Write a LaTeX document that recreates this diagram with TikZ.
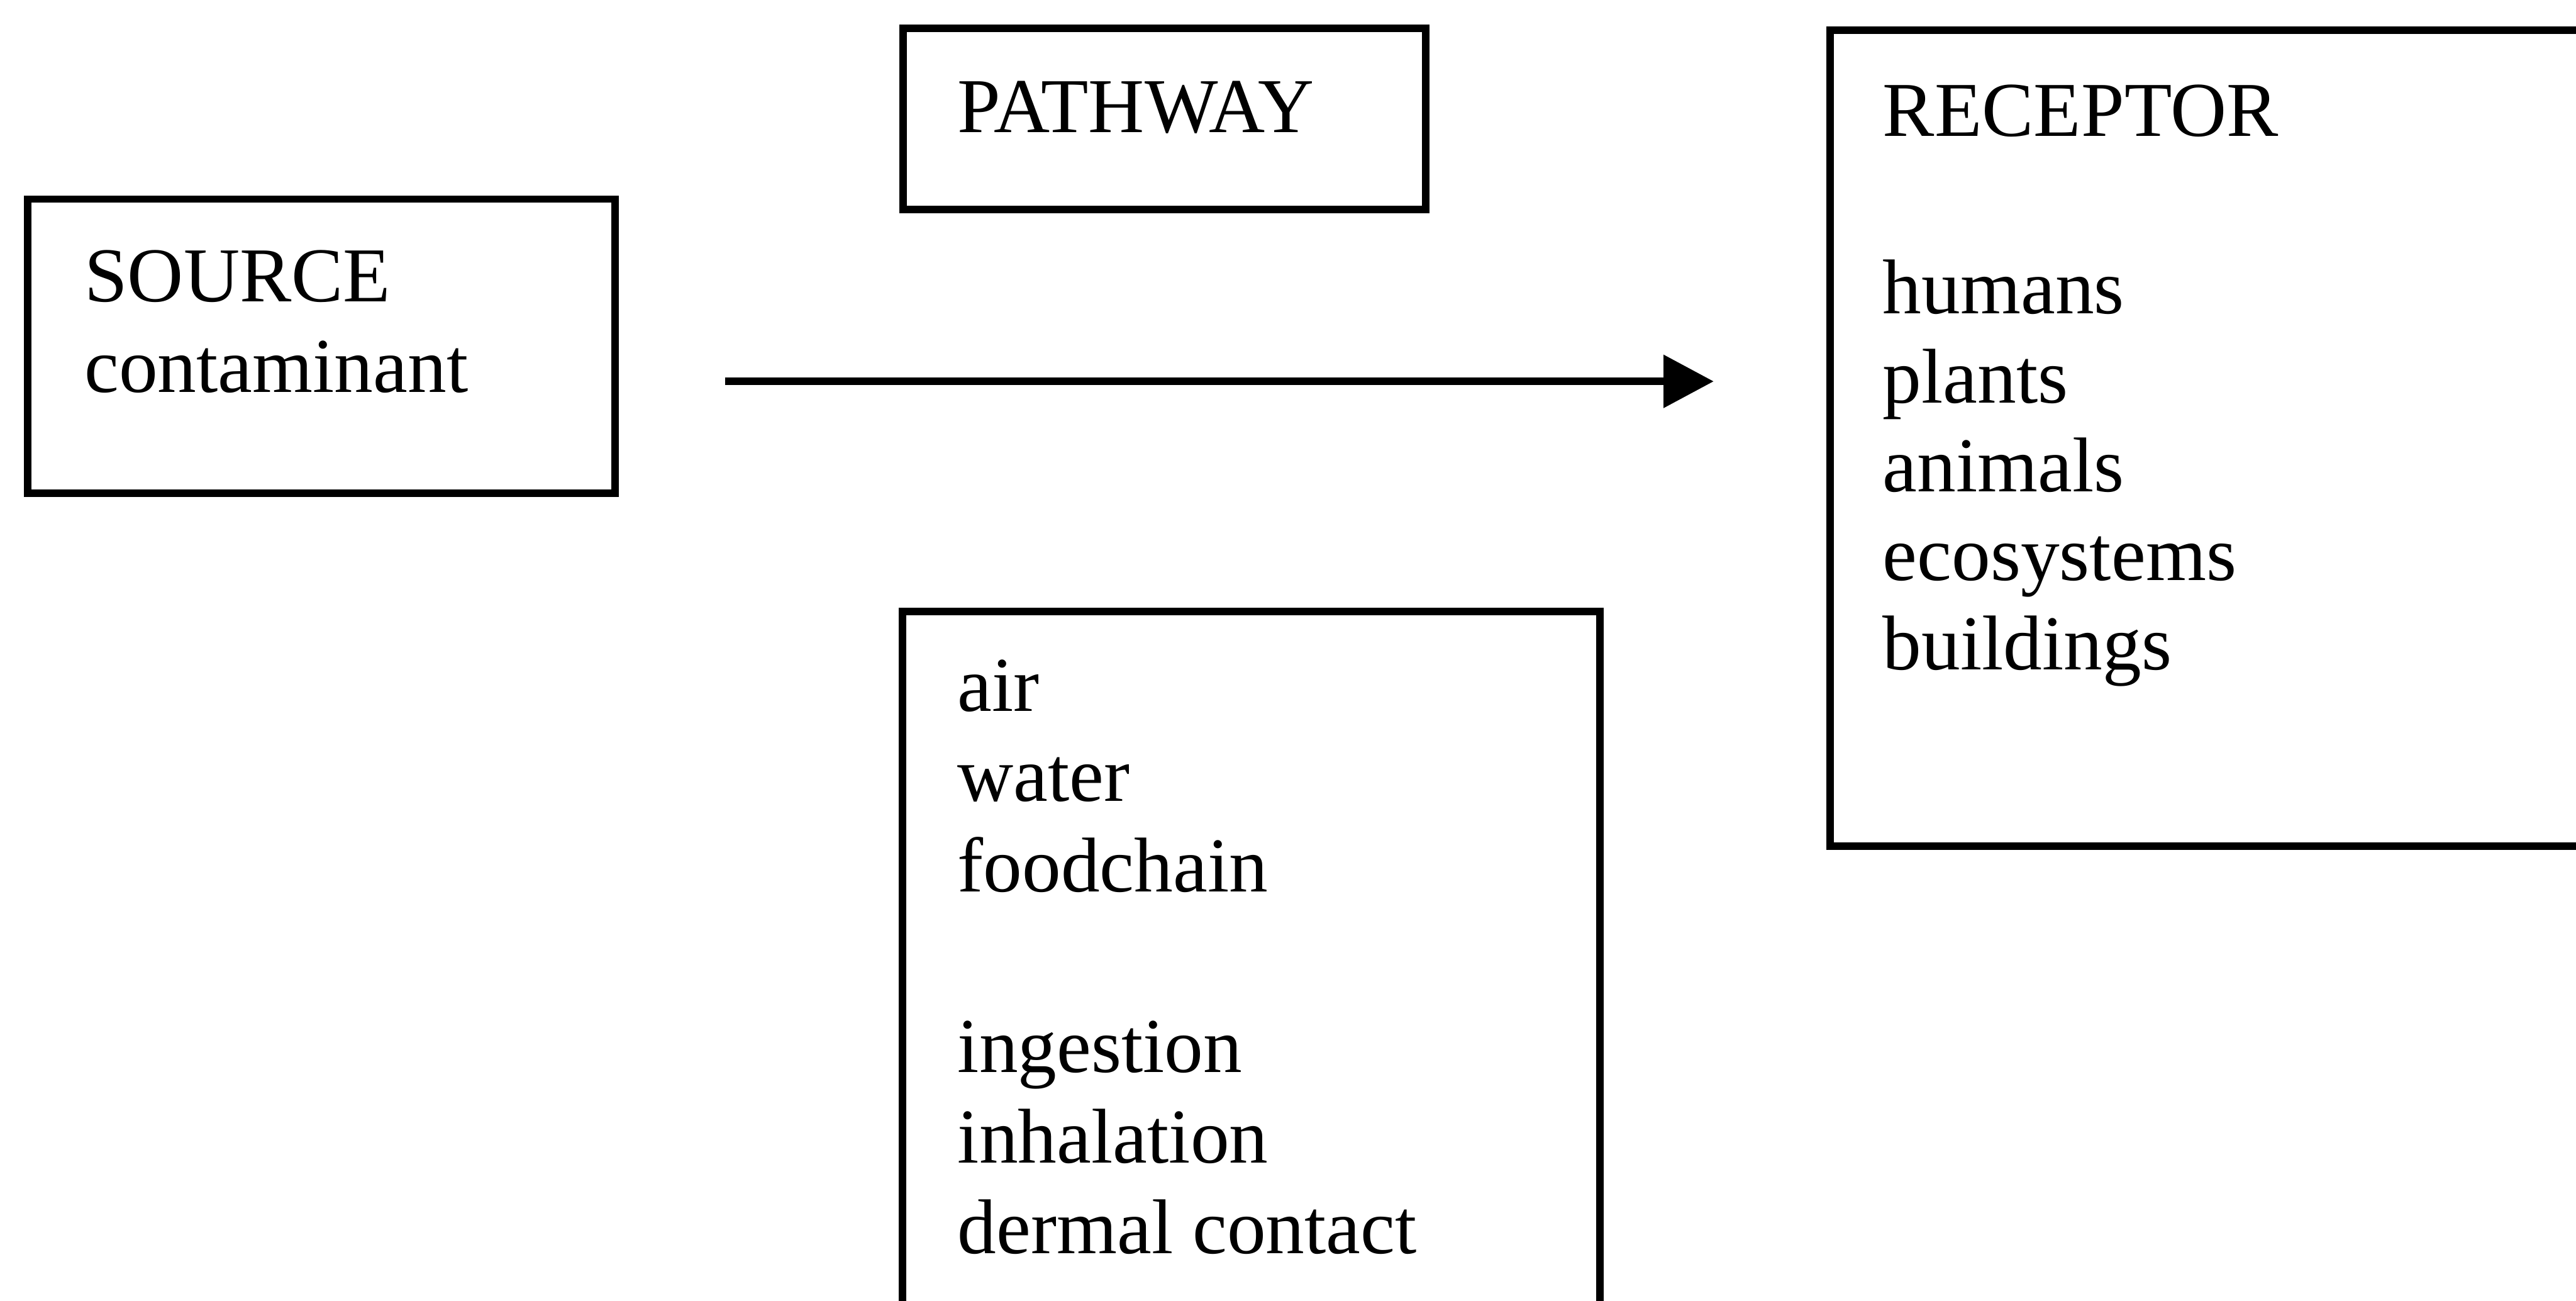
\documentclass[tikz,border=0pt]{standalone}
\usepackage{fontspec}
\setmainfont{Liberation Serif}
\usetikzlibrary{arrows.meta,positioning}
\tikzset{
  bx/.style={rectangle, draw=black, line width=3.5pt, inner sep=0pt},
  lbl/.style={font=\fontsize{36.5}{42.5}\selectfont, align=left, inner sep=0pt, anchor=north west},
  arr/.style={-{Triangle[length=8.3mm, width=8.5mm]}, line width=3.6pt},
}
\begin{document}
\begin{tikzpicture}
      \path[use as bounding box, clip] (0,0) rectangle (42.57,-21.49);
      % boxes
      \node[bx, minimum width=97mm, minimum height=48.6mm] (src) at (5.31,-5.72) {};
      \node[bx, minimum width=86.4mm, minimum height=29.9mm] (pw) at (19.24,-1.965) {};
      \node[bx, minimum width=115.3mm, minimum height=124mm] (route) at (20.675,-16.30) {};
      \node[bx, minimum width=137.6mm, minimum height=134.8mm] (rec) at (37.12,-7.24) {};
      % texts
      \node[lbl] (srctxt) at ([shift={(0.99,-0.90)}]src.north west) {SOURCE\\contaminant};
      \node[lbl] (pwtxt) at ([shift={(0.96,-0.93)}]pw.north west) {PATHWAY};
      \node[lbl] (routetxt) at ([shift={(0.97,-0.85)}]route.north west) {air\\water\\foodchain\\[42.5pt]ingestion\\inhalation\\dermal contact};
      \node[lbl, font=\fontsize{36.5}{41.8}\selectfont] (rectxt) at ([shift={(0.93,-0.95)}]rec.north west) {RECEPTOR\\[41.8pt]humans\\plants\\animals\\ecosystems\\buildings};
      % arrow
      \coordinate (tail) at (11.98,-6.30);
      \coordinate (tip) at (28.32,-6.30);
      \draw[arr] (tail) -- (tip);
\end{tikzpicture}
\end{document}
